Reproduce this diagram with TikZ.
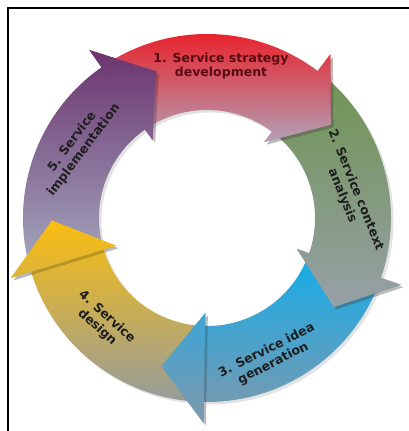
\documentclass[tikz,border=0pt]{standalone}
\usepackage{fontspec}
\setsansfont{DejaVu Sans}
\usepackage{tikz}
\usetikzlibrary{shadows}

\definecolor{stratTop}{RGB}{238,22,30}
\definecolor{stratBot}{RGB}{178,160,182}
\definecolor{contTop}{RGB}{112,148,82}
\definecolor{contBot}{RGB}{150,160,168}
\definecolor{ideaTop}{RGB}{22,172,232}
\definecolor{ideaBot}{RGB}{128,152,172}
\definecolor{desTop}{RGB}{250,190,15}
\definecolor{desBot}{RGB}{150,156,156}
\definecolor{implTop}{RGB}{108,52,112}
\definecolor{implBot}{RGB}{162,166,188}
\definecolor{stratText}{RGB}{88,12,16}
\definecolor{stepText}{RGB}{30,30,30}

% ring arrow: tail angle, head base angle
\newcommand{\ringarrow}[2]{(#1:184) arc[start angle=#1,end angle=#2,radius=184]
  -- (#2:205) -- (#2-16:155) -- (#2:95) -- (#2:108)
  arc[start angle=#2,end angle=#1,radius=108] -- cycle}
\newcommand{\ringhead}[1]{(#1:205) -- (#1-16:155) -- (#1:95) -- cycle}

\begin{document}
\begin{tikzpicture}[x=1pt,y=1pt,
  steplabel/.style={font=\sffamily\bfseries\fontsize{12.5}{14.5}\selectfont,
    align=center,text=stepText,inner sep=0pt},
  ringshadow/.style={drop shadow={shadow xshift=2.5pt,shadow yshift=-2.5pt,opacity=0.22}}]

\useasboundingbox (-207,-213) rectangle (202,218);

% frame
\draw[line width=2pt] (-199,-213) -- (-199,210) -- (202,210);

% arrow bodies
\foreach \tl/\bs/\ct/\cb in {194/125/implTop/implBot, -94/-163/desTop/desBot,
    -22/-91/ideaTop/ideaBot, 50/-19/contTop/contBot, 122/53/stratTop/stratBot}
  \shade[top color=\ct, bottom color=\cb, ringshadow] \ringarrow{\tl}{\bs};

% arrow heads on top
\foreach \tl/\bs/\ct/\cb in {194/125/implTop/implBot, -94/-163/desTop/desBot,
    -22/-91/ideaTop/ideaBot, 50/-19/contTop/contBot, 122/53/stratTop/stratBot}
{
  \fill[black, opacity=0.18, shift={(2.5,-2.5)}] \ringhead{\bs};
  \begin{scope}
    \clip \ringhead{\bs};
    \shade[top color=\ct, bottom color=\cb] \ringarrow{\tl}{\bs};
  \end{scope}
}

\node[steplabel, text=stratText] (strategy) at (14,152) {1. Service strategy\\development};
\node[steplabel, rotate=-68] (context) at (142,25) {2. Service context\\analysis};
\node[steplabel, rotate=27] (idea) at (63,-139) {3. Service idea\\generation};
\node[steplabel, rotate=-42] (design) at (-105,-104) {4. Service\\design};
\node[steplabel, rotate=53] (implementation) at (-129,72) {5. Service\\implementation};
\end{tikzpicture}
\end{document}
